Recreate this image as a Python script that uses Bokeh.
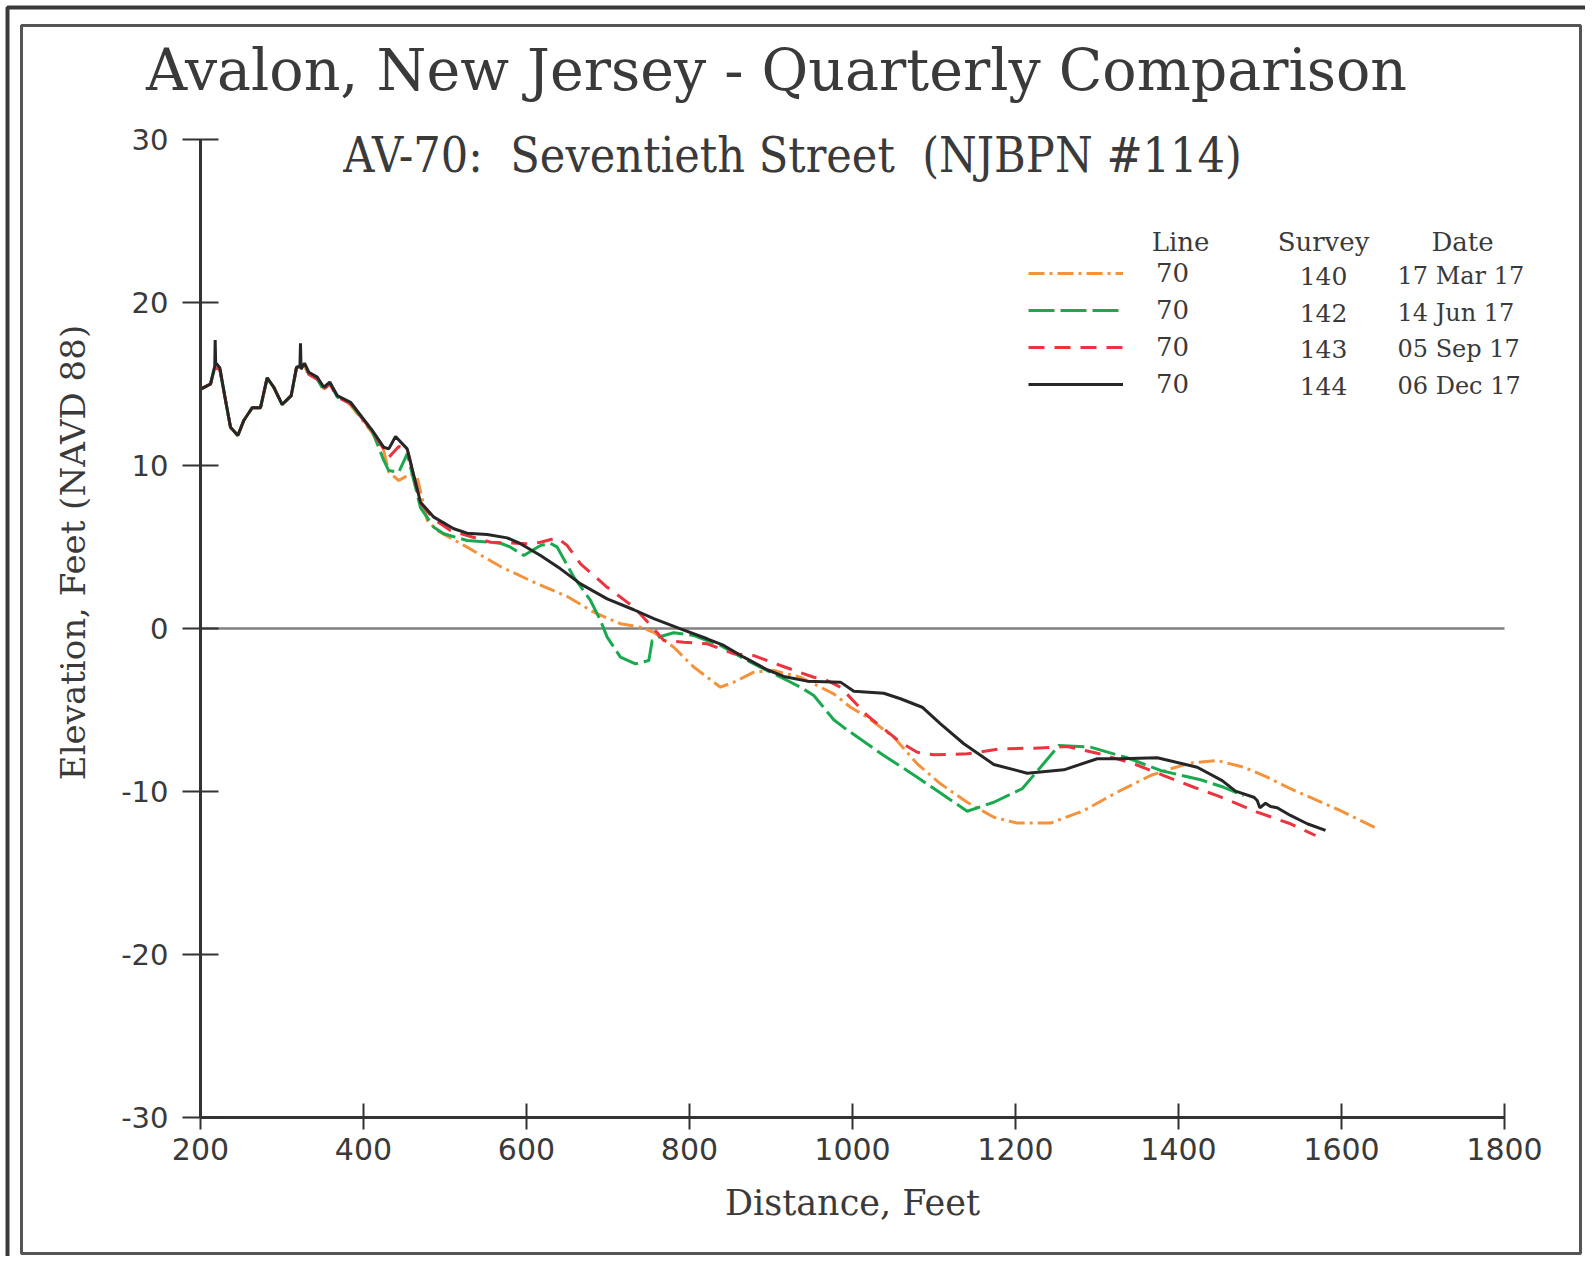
import numpy as np
from bokeh.plotting import figure
from bokeh.models import Range1d, FixedTicker, Label, Legend, LegendItem, BoxAnnotation
from bokeh.embed import file_html
from bokeh.resources import INLINE

# ---------------- data ----------------
TITLE = "Avalon, New Jersey - Quarterly Comparison"
SUBTITLE = "AV-70:\u00a0 Seventieth Street\u00a0 (NJBPN #114)"
X_LABEL = "Distance, Feet"
Y_LABEL = "Elevation, Feet (NAVD 88)"
X_TICKS = [200, 400, 600, 800, 1000, 1200, 1400, 1600, 1800]
Y_TICKS = [-30, -20, -10, 0, 10, 20, 30]
ZERO = 0

LINE_NO = ["70", "70", "70", "70"]
SURVEYS = ["140", "142", "143", "144"]
DATES = ["17 Mar 17", "14 Jun 17", "05 Sep 17", "06 Dec 17"]

DIST_140 = [200.9, 212.3, 217.5, 223.7, 230.7, 236.8, 245.8, 253.1, 263.4, 273.6, 281.8,
            289.9, 300.2, 311.3, 317.8, 323.6, 327.6, 332.9, 343.2, 351.3, 358.7, 367.7,
            384.1, 410.7, 424.9, 431.0, 443.3, 457.7, 465.9, 478.2, 490.4, 527.2, 568.1,
            609.0, 650.0, 682.6, 715.3, 739.9, 756.2, 780.7, 805.3, 838.0, 854.4, 878.9,
            903.4, 936.2, 977.0, 997.5, 1018.0, 1050.7, 1079.4, 1108.0, 1140.7, 1173.4,
            1202.1, 1243.0, 1283.8, 1324.8, 1365.7, 1390.2, 1414.7, 1447.5, 1480.1,
            1508.8, 1537.4, 1570.1, 1598.7, 1641.7]
ELEV_140 = [14.7, 15.0, 16.0, 15.9, 14.0, 12.35, 11.84, 12.76, 13.54, 13.54, 15.38,
            14.8, 13.74, 14.29, 16.0, 16.1, 16.1, 15.6, 15.3, 14.7, 15.0, 14.3,
            13.7, 12.0, 10.9, 9.59, 9.08, 9.49, 9.28, 6.63, 6.01, 4.99, 3.80,
            2.84, 1.96, 1.00, 0.29, 0.08, -0.23, -1.15, -2.37, -3.60, -3.29, -2.68,
            -2.58, -2.99, -4.01, -4.83, -5.44, -6.67, -8.30, -9.53, -10.66, -11.58,
            -11.94, -11.94, -11.17, -10.04, -9.02, -8.61, -8.26, -8.10, -8.51,
            -9.12, -9.83, -10.55, -11.17, -12.23]

DIST_142 = [200.9, 212.3, 217.5, 223.7, 230.7, 236.8, 245.8, 253.1, 263.4, 273.6, 281.8,
            289.9, 300.2, 311.3, 317.8, 323.6, 327.6, 332.9, 343.2, 351.3, 358.7, 367.7,
            384.1, 410.7, 424.9, 431.0, 443.3, 453.6, 469.9, 486.3, 498.5, 527.2, 568.1,
            580.4, 596.7, 617.2, 629.4, 637.7, 658.1, 678.5, 690.8, 699.0, 715.3, 733.7,
            750.1, 754.2, 764.4, 780.7, 805.3, 838.0, 874.8, 919.9, 936.2, 952.5, 977.0,
            990.0, 1038.4, 1079.4, 1140.7, 1173.4, 1208.2, 1230.7, 1253.1, 1292.0,
            1337.0, 1377.9, 1427.0, 1455.6, 1480.1]
ELEV_142 = [14.7, 15.0, 16.0, 15.9, 14.0, 12.35, 11.84, 12.76, 13.54, 13.54, 15.38,
            14.8, 13.74, 14.29, 16.0, 16.1, 16.1, 15.6, 15.3, 14.6, 15.1, 14.2,
            13.8, 12.1, 10.31, 9.69, 9.59, 10.72, 7.42, 6.21, 5.81, 5.40, 5.23,
            4.99, 4.48, 5.09, 5.23, 4.99, 3.15, 1.72, 0.49, -0.53, -1.76, -2.17,
            -1.96, -0.74, -0.49, -0.26, -0.43, -1.04, -2.07, -3.19, -3.60, -4.11, -5.60,
            -6.10, -7.79, -9.12, -11.21, -10.66, -9.83, -8.51, -7.18, -7.28,
            -7.93, -8.71, -9.28, -9.74, -10.25]

DIST_143 = [200.9, 212.3, 217.5, 223.7, 230.7, 236.8, 245.8, 253.1, 263.4, 273.6, 281.8,
            289.9, 300.2, 311.3, 317.8, 323.6, 327.6, 332.9, 343.2, 351.3, 358.7, 367.7,
            384.1, 410.7, 424.9, 431.0, 443.3, 453.6, 469.9, 486.3, 506.8, 555.8, 600.9,
            617.2, 637.7, 650.0, 666.3, 699.0, 731.7, 756.2, 768.5, 793.0, 821.7, 854.4,
            878.9, 911.7, 952.5, 964.8, 985.3, 1018.0, 1058.9, 1079.4, 1099.8, 1140.7,
            1181.6, 1222.5, 1263.4, 1300.3, 1345.2, 1382.0, 1418.8, 1447.5, 1496.6,
            1537.4, 1568.1]
ELEV_143 = [14.7, 15.0, 16.0, 15.9, 14.0, 12.35, 11.84, 12.76, 13.54, 13.54, 15.38,
            14.8, 13.74, 14.29, 16.0, 16.1, 16.2, 15.6, 15.3, 14.7, 15.0, 14.2,
            13.8, 12.1, 11.0, 10.5, 11.17, 11.0, 7.7, 6.7, 6.01, 5.29, 5.20,
            5.29, 5.56, 5.09, 3.97, 2.53, 1.31, -0.02, -0.74, -0.84, -0.94, -1.55,
            -1.66, -2.27, -2.99, -3.09, -3.60, -5.34, -6.98, -7.59, -7.75, -7.69,
            -7.38, -7.34, -7.24, -7.65, -8.30, -9.02, -9.74, -10.25, -11.27,
            -11.98, -12.70]

DIST_144 = [200.9, 212.3, 217.5, 218.0, 218.6, 223.7, 230.7, 236.8, 245.8, 253.1, 263.4,
            273.6, 281.8, 289.9, 300.2, 311.3, 317.8, 322.0, 322.7, 323.4, 327.6, 332.9,
            343.2, 351.3, 358.7, 367.7, 384.1, 410.7, 424.9, 431.0, 439.3, 453.6, 469.9,
            486.3, 510.8, 527.2, 551.8, 576.3, 592.6, 617.2, 641.7, 666.3, 699.0, 731.7,
            756.2, 789.0, 821.7, 842.1, 866.6, 895.3, 915.7, 944.4, 985.3, 1001.6,
            1038.4, 1058.9, 1085.5, 1108.0, 1136.6, 1173.4, 1214.4, 1259.3, 1300.3,
            1328.8, 1373.9, 1423.0, 1453.6, 1469.9, 1492.4, 1496.6, 1499.8, 1506.7,
            1512.9, 1521.1, 1537.4, 1558.0, 1580.4]
ELEV_144 = [14.7, 15.0, 16.1, 17.7, 16.3, 16.0, 14.0, 12.35, 11.84, 12.76, 13.54,
            13.54, 15.38, 14.80, 13.74, 14.29, 16.03, 16.1, 17.5, 15.9, 16.28, 15.72,
            15.42, 14.80, 15.11, 14.29, 13.88, 12.15, 11.12, 11.02, 11.78, 11.02, 7.75,
            6.83, 6.12, 5.85, 5.77, 5.56, 5.20, 4.48, 3.66, 2.74, 1.82, 1.15,
            0.60, -0.02, -0.63, -1.04, -1.76, -2.53, -2.94, -3.23, -3.29, -3.85,
            -3.97, -4.31, -4.83, -5.85, -7.07, -8.34, -8.88, -8.67, -7.99,
            -7.99, -7.93, -8.51, -9.33, -9.98, -10.35, -10.55, -11.00, -10.72,
            -10.92, -11.00, -11.47, -11.98, -12.39]

# ---------------- layout / styles ----------------
TXT = "#3a3a3a"
AX = "#333333"
SERIF = "DejaVu Serif"
SANS = "DejaVu Sans"

W, H = 1585, 1256
# pixel box of the axes inside the canvas
AX_L, AX_R, AX_T, AX_B = 200, 1504, 139, 1117
xs = (AX_R - AX_L) / (X_TICKS[-1] - X_TICKS[0])
ys = (AX_B - AX_T) / (Y_TICKS[-1] - Y_TICKS[0])
x_range = Range1d(X_TICKS[0] - AX_L / xs, X_TICKS[-1] + (W - AX_R) / xs)
y_range = Range1d(Y_TICKS[0] - (H - AX_B) / ys, Y_TICKS[-1] + AX_T / ys)

p = figure(width=W, height=H, output_backend="svg", toolbar_location=None, title=None,
           x_range=x_range, y_range=y_range, min_border=0)
p.outline_line_color = None
p.background_fill_color = "white"
p.border_fill_color = "white"
p.xgrid.visible = False
p.ygrid.visible = False

# zero reference line across the axis extent
p.segment(x0=[X_TICKS[0]], y0=[ZERO], x1=[X_TICKS[-1]], y1=[ZERO],
          line_color="#808080", line_width=2.5)

xa = p.xaxis[0]
xa.fixed_location = Y_TICKS[0]
xa.bounds = (X_TICKS[0], X_TICKS[-1])
xa.ticker = FixedTicker(ticks=X_TICKS)
xa.major_label_overrides = {t: str(t) for t in X_TICKS}
xa.major_label_text_font = SANS
xa.major_label_text_font_size = "30px"
xa.major_label_text_color = TXT
xa.major_label_standoff = 8
xa.axis_line_width = 3
xa.axis_line_color = AX
xa.major_tick_line_color = AX
xa.major_tick_line_width = 2
xa.major_tick_in = 14
xa.major_tick_out = 12
xa.minor_tick_line_color = None
xa.axis_label = X_LABEL
xa.axis_label_text_font = SERIF
xa.axis_label_text_font_size = "35px"
xa.axis_label_text_font_style = "normal"
xa.axis_label_text_color = TXT
xa.axis_label_standoff = 20

ya = p.yaxis[0]
ya.fixed_location = X_TICKS[0]
ya.bounds = (Y_TICKS[0], Y_TICKS[-1])
ya.ticker = FixedTicker(ticks=Y_TICKS)
ya.major_label_overrides = {t: str(t) for t in Y_TICKS}
ya.major_label_text_font = SANS
ya.major_label_text_font_size = "29px"
ya.major_label_text_color = TXT
ya.major_label_standoff = 14
ya.axis_line_width = 3
ya.axis_line_color = AX
ya.major_tick_line_color = AX
ya.major_tick_line_width = 2
ya.major_tick_in = 18
ya.major_tick_out = 18
ya.minor_tick_line_color = None

r140 = p.line(DIST_140, ELEV_140, line_color="#F5923C", line_width=3, line_dash="16 5 3 5")
r142 = p.line(DIST_142, ELEV_142, line_color="#1BA94F", line_width=3, line_dash="26 6")
r143 = p.line(DIST_143, ELEV_143, line_color="#EC3440", line_width=3, line_dash="16 10")
r144 = p.line(DIST_144, ELEV_144, line_color="#262626", line_width=3)
renderers = [r140, r142, r143, r144]

legend = Legend(items=[LegendItem(label=LINE_NO[i], renderers=[renderers[i]]) for i in range(4)],
                location=(1028, 856), glyph_width=95, glyph_height=32, label_height=32,
                spacing=5, padding=0, margin=0, label_standoff=33,
                border_line_color=None, background_fill_alpha=0,
                label_text_font=SERIF, label_text_font_size="26px", label_text_color=TXT)
p.add_layout(legend)


def lab(x, y, text, size, align="center", font=SERIF, angle=0.0):
    p.add_layout(Label(x=x, y=y, x_units="screen", y_units="screen", text=text,
                       text_font=font, text_font_size=size, text_color=TXT,
                       text_align=align, text_baseline="middle", angle=angle))


lab(776, 1187, TITLE, "57px")
lab(792, 1102, SUBTITLE, "48px", font="DejaVu Serif Condensed")
lab(72, 704, Y_LABEL, "34px", angle=np.pi / 2)

lab(1180, 1015, "Line", "26px")
lab(1323, 1015, "Survey", "26px")
lab(1462, 1015, "Date", "26px")
ROW_Y = [981, 944, 908, 871]
for i in range(4):
    lab(1323, ROW_Y[i], SURVEYS[i], "25px")
    lab(1397, ROW_Y[i], DATES[i], "24px", align="left")

# double frame around the chart
p.add_layout(BoxAnnotation(left=21, right=1580, top=1231, bottom=3,
                           left_units="screen", right_units="screen",
                           top_units="screen", bottom_units="screen",
                           fill_color=None, fill_alpha=0,
                           line_color="#555555", line_alpha=1.0, line_width=3))
p.add_layout(BoxAnnotation(left=7, right=1700, top=1249, bottom=-100,
                           left_units="screen", right_units="screen",
                           top_units="screen", bottom_units="screen",
                           fill_color=None, fill_alpha=0,
                           line_color="#3a3a3a", line_alpha=1.0, line_width=4))

open("out.html", "w").write(file_html(p, INLINE))
